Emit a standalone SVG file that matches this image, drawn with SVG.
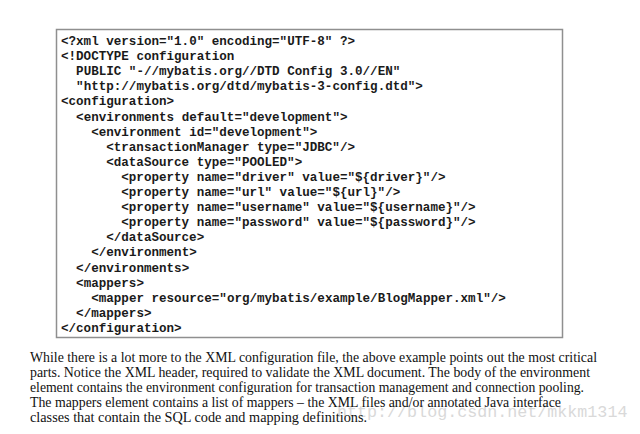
<svg xmlns="http://www.w3.org/2000/svg" width="640" height="434" viewBox="0 0 640 434">
<style>
.code{font-family:"Liberation Mono","DejaVu Sans Mono",monospace;font-size:12.57px;font-weight:bold;fill:#1a1a1a}
.para{font-family:"Liberation Serif","Times New Roman",serif;font-size:14px;fill:#111}
.wm{font-family:"Liberation Mono",monospace;font-size:16.7px;fill:#d9d9d9}
</style>
<rect width="640" height="434" fill="#ffffff"/>
<g id="codebox">
<rect x="56.5" y="29.5" width="506" height="308" fill="#ffffff" stroke="#8f8f8f" stroke-width="1.5"/>
<text class="code" x="61" y="45">&lt;?xml version="1.0" encoding="UTF-8" ?&gt;</text>
<text class="code" x="61" y="60.1">&lt;!DOCTYPE configuration</text>
<text class="code" x="76.1" y="75.2">PUBLIC "-//mybatis.org//DTD Config 3.0//EN"</text>
<text class="code" x="76.1" y="90.3">"http://mybatis.org/dtd/mybatis-3-config.dtd"&gt;</text>
<text class="code" x="61" y="105.4">&lt;configuration&gt;</text>
<text class="code" x="76.1" y="120.5">&lt;environments default="development"&gt;</text>
<text class="code" x="91.2" y="135.6">&lt;environment id="development"&gt;</text>
<text class="code" x="106.2" y="150.7">&lt;transactionManager type="JDBC"/&gt;</text>
<text class="code" x="106.2" y="165.8">&lt;dataSource type="POOLED"&gt;</text>
<text class="code" x="121.3" y="180.9">&lt;property name="driver" value="${driver}"/&gt;</text>
<text class="code" x="121.3" y="196">&lt;property name="url" value="${url}"/&gt;</text>
<text class="code" x="121.3" y="211.1">&lt;property name="username" value="${username}"/&gt;</text>
<text class="code" x="121.3" y="226.2">&lt;property name="password" value="${password}"/&gt;</text>
<text class="code" x="106.2" y="241.3">&lt;/dataSource&gt;</text>
<text class="code" x="91.2" y="256.4">&lt;/environment&gt;</text>
<text class="code" x="76.1" y="271.5">&lt;/environments&gt;</text>
<text class="code" x="76.1" y="286.6">&lt;mappers&gt;</text>
<text class="code" x="91.2" y="301.7">&lt;mapper resource="org/mybatis/example/BlogMapper.xml"/&gt;</text>
<text class="code" x="76.1" y="316.8">&lt;/mappers&gt;</text>
<text class="code" x="61" y="331.9">&lt;/configuration&gt;</text>
</g>
<g id="paragraph">
<text class="wm" x="337" y="417">http://blog.csdn.net/mkkm1314</text>
<text class="para" x="30" y="362" textLength="567" lengthAdjust="spacingAndGlyphs">While there is a lot more to the XML configuration file, the above example points out the most critical</text>
<text class="para" x="30" y="377" textLength="560" lengthAdjust="spacingAndGlyphs">parts. Notice the XML header, required to validate the XML document. The body of the environment</text>
<text class="para" x="30" y="392" textLength="554" lengthAdjust="spacingAndGlyphs">element contains the environment configuration for transaction management and connection pooling.</text>
<text class="para" x="30" y="407" textLength="531" lengthAdjust="spacingAndGlyphs">The mappers element contains a list of mappers – the XML files and/or annotated Java interface</text>
<text class="para" x="30" y="422" textLength="337" lengthAdjust="spacingAndGlyphs">classes that contain the SQL code and mapping definitions.</text>
</g>
</svg>
